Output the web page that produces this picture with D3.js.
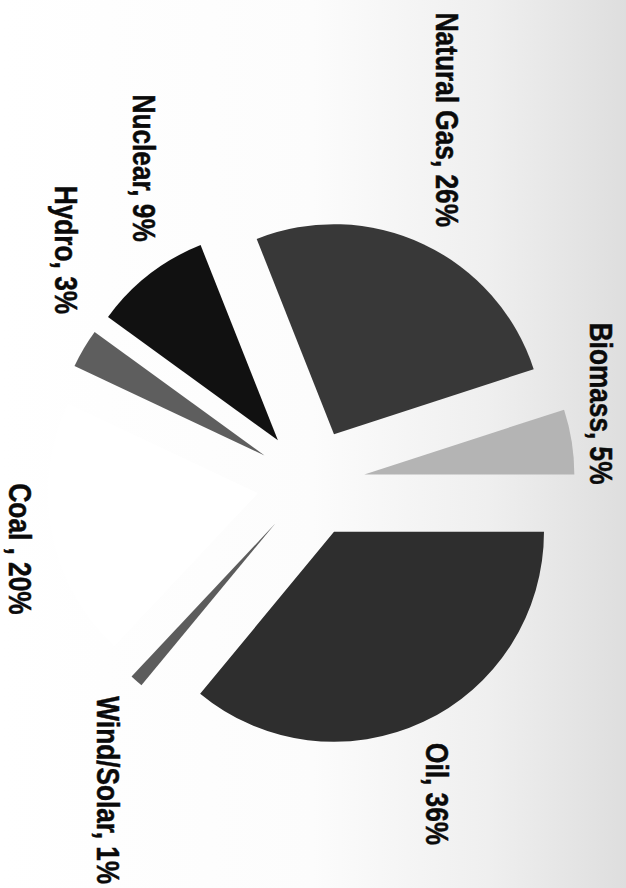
<!DOCTYPE html>
<html>
<head>
<meta charset="utf-8">
<script src="https://cdn.jsdelivr.net/npm/d3@7"></script>
<style>
  html, body { margin: 0; padding: 0; background: #fff; }
  svg { display: block; }
  .lbl {
    font-family: "Liberation Sans", Arial, Helvetica, sans-serif;
    font-weight: bold;
    font-size: 32px;
    fill: #0a0a0a;
    stroke: #0a0a0a;
    stroke-width: 0.5px;
  }
</style>
</head>
<body>
<div id="chart"></div>
<script>
// energy sources, in pie order (clockwise from 12 o'clock of the unrotated chart)
const categories = ["Oil", "Wind/Solar", "Coal", "Hydro", "Nuclear", "Natural Gas", "Biomass"];
const shares = [36, 1, 20, 3, 9, 26, 5];
const labels = ["Oil, 36%", "Wind/Solar, 1%", "Coal , 20%", "Hydro, 3%", "Nuclear, 9%", "Natural Gas, 26%", "Biomass, 5%"];

// styling
const fills = {
  "Oil": "#2e2e2e",
  "Wind/Solar": "#5c5c5c",
  "Coal": "#ffffff",
  "Hydro": "#5e5e5e",
  "Nuclear": "#111111",
  "Natural Gas": "#383838",
  "Biomass": "#b4b4b4"
};
// label placement: [degrees off the slice bisector, distance from centre]
const labelPlace = {
  "Oil": [3, 336],
  "Wind/Solar": [-8, 368],
  "Coal": [-2, 298],
  "Hydro": [13, 338],
  "Nuclear": [10, 356],
  "Natural Gas": [-4.6, 388],
  "Biomass": [-6.3, 301]
};
const NARROW = 0.82; // condensed face: squeeze the bold sans horizontally

const W = 626, H = 888;
const RADIUS = 210, EXPLODE = 54;
// pie centre in the rotated (landscape) frame
const CX = 483, CY = 315;

const svg = d3.select("#chart").append("svg")
  .attr("width", W)
  .attr("height", H);

// faint scan tint, darker toward the right edge
const grad = svg.append("defs").append("linearGradient")
  .attr("id", "scan")
  .attr("x1", 0).attr("x2", 1).attr("y1", 0).attr("y2", 0);
grad.selectAll("stop")
  .data([["0%", "#ffffff"], ["50%", "#fcfcfc"], ["78%", "#efefef"], ["100%", "#dedede"]])
  .join("stop")
  .attr("offset", d => d[0])
  .attr("stop-color", d => d[1]);
svg.append("rect")
  .attr("width", W)
  .attr("height", H)
  .attr("fill", "url(#scan)");

// the chart sits on its side: draw it landscape and turn it 90 deg clockwise
const g = svg.append("g")
  .attr("transform", `translate(${W},0) rotate(90)`);

const data = categories.map((c, i) => ({ name: c, share: shares[i], label: labels[i] }));
const pie = d3.pie().sort(null).value(d => d.share);
const arcs = pie(data);
const arc = d3.arc().innerRadius(0).outerRadius(RADIUS);
const mid = d => (d.startAngle + d.endAngle) / 2;

const pieG = g.append("g").attr("transform", `translate(${CX},${CY})`);

pieG.selectAll("path")
  .data(arcs)
  .join("path")
  .attr("transform", d => `translate(${Math.sin(mid(d)) * EXPLODE},${-Math.cos(mid(d)) * EXPLODE})`)
  .attr("d", arc)
  .attr("fill", d => fills[d.data.name]);

function labelPos(d) {
  const p = labelPlace[d.data.name];
  const a = mid(d) + p[0] * Math.PI / 180;
  return [Math.sin(a) * p[1], -Math.cos(a) * p[1]];
}

pieG.selectAll("text")
  .data(arcs)
  .join("text")
  .attr("class", "lbl")
  .attr("text-anchor", "middle")
  .attr("dy", "0.36em")
  .attr("transform", d => {
    const [x, y] = labelPos(d);
    return `translate(${x},${y}) scale(${NARROW},1)`;
  })
  .text(d => d.data.label);
</script>
</body>
</html>
